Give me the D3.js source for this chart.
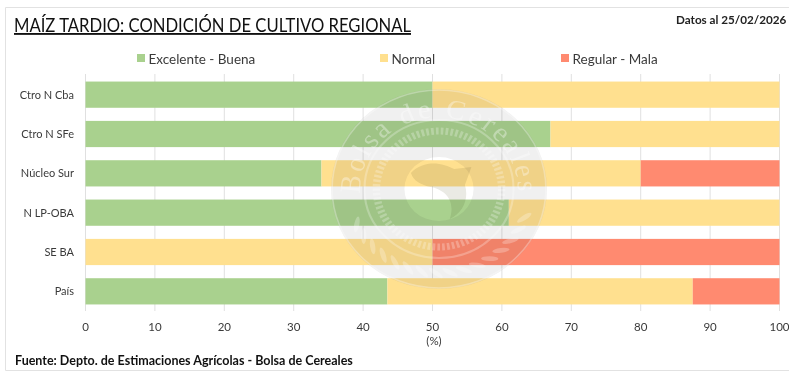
<!DOCTYPE html>
<html>
<head>
<meta charset="utf-8">
<script src="https://cdn.jsdelivr.net/npm/d3@7"></script>
<style>
	html, body { margin: 0; padding: 0; background: #fff; }
	svg { display: block; font-family: Lato, "Noto Sans", sans-serif; }
	.wash { mix-blend-mode: multiply; }
</style>
</head>
<body>
<div id="chart"></div>
<script>
'use strict';

// Values
const categories = ['Ctro N Cba', 'Ctro N SFe', 'Núcleo Sur', 'N LP-OBA', 'SE BA', 'País'];
const excelenteBuena = [50, 67, 34, 61, 0, 43.5];
const normal = [50, 33, 46, 39, 50, 44];
const regularMala = [0, 0, 20, 0, 50, 12.5];
const xTicks = [0, 10, 20, 30, 40, 50, 60, 70, 80, 90, 100];
const seriesNames = ['Excelente - Buena', 'Normal', 'Regular - Mala'];
const seriesColors = ['#a9d18e', '#ffe08f', '#ff8a70'];

const width = 789;
const height = 383;

const svg = d3.select('#chart')
	.append('svg')
	.attr('width', width)
	.attr('height', height);

// Frame around the chart
svg.append('path')
	.attr('d', 'M789,7.5H5.5V370.5H789')
	.attr('fill', 'none')
	.attr('stroke', '#e2e2e2');

const x = d3.scaleLinear().domain([0, 100]).range([85.5, 779.5]);
const y = d3.scaleBand().domain(categories).range([75, 311]).paddingInner(1 / 3).paddingOuter(1 / 6);

// Gridlines
svg.append('g')
	.selectAll('line')
	.data(xTicks)
	.enter()
	.append('line')
		.attr('x1', d => x(d))
		.attr('x2', d => x(d))
		.attr('y1', 74)
		.attr('y2', 311)
		.attr('stroke', '#e0e0e0');

// Stacked bars
const rows = categories.map((c, i) => ({
	cat: c,
	a: excelenteBuena[i],
	b: normal[i],
	c: regularMala[i]
}));
const stacked = d3.stack().keys(['a', 'b', 'c'])(rows);

svg.append('g')
	.selectAll('g')
	.data(stacked)
	.enter()
	.append('g')
		.attr('fill', (d, i) => seriesColors[i])
	.selectAll('rect')
	.data(d => d)
	.enter()
	.append('rect')
		.attr('x', d => x(d[0]))
		.attr('y', d => y(d.data.cat))
		.attr('width', d => x(d[1]) - x(d[0]))
		.attr('height', y.bandwidth());

// Axis labels
svg.selectAll('.xlabel')
	.data(xTicks)
	.enter()
	.append('text')
		.attr('class', 'xlabel')
		.attr('x', d => x(d))
		.attr('y', 331)
		.attr('text-anchor', 'middle')
		.attr('font-size', 11.5)
		.attr('fill', '#3a3a3a')
		.text(d => d);

svg.selectAll('.ylabel')
	.data(categories)
	.enter()
	.append('text')
		.attr('class', 'ylabel')
		.attr('x', 74)
		.attr('y', d => y(d) + y.bandwidth() / 2 + 4)
		.attr('text-anchor', 'end')
		.attr('font-size', 11)
		.attr('fill', '#3a3a3a')
		.text(d => d);

svg.append('text')
	.attr('x', 434)
	.attr('y', 345)
	.attr('text-anchor', 'middle')
	.attr('font-size', 11.5)
	.attr('fill', '#3a3a3a')
	.text('(%)');

// Legend
const legendX = [137, 380, 561];
const legend = svg.selectAll('.legend')
	.data(seriesNames)
	.enter()
	.append('g')
		.attr('class', 'legend')
		.attr('transform', (d, i) => 'translate(' + legendX[i] + ',54)');
legend.append('rect')
	.attr('width', 8)
	.attr('height', 8)
	.attr('fill', (d, i) => seriesColors[i]);
legend.append('text')
	.attr('x', 11.5)
	.attr('y', 9.5)
	.attr('font-size', 13.5)
	.attr('fill', '#3a3a3a')
	.text(d => d);

// Titles
svg.append('text')
	.attr('x', 14)
	.attr('y', 32)
	.attr('font-size', 18.5)
	.attr('fill', '#111')
	.attr('text-decoration', 'underline')
	.attr('textLength', 397)
	.attr('lengthAdjust', 'spacingAndGlyphs')
	.text('MAÍZ TARDIO: CONDICIÓN DE CULTIVO REGIONAL');

svg.append('text')
	.attr('x', 676)
	.attr('y', 24)
	.attr('font-size', 11.7)
	.attr('font-weight', 700)
	.attr('fill', '#222')
	.text('Datos al 25/02/2026');

svg.append('text')
	.attr('x', 15)
	.attr('y', 365)
	.attr('font-size', 12.5)
	.attr('font-weight', 700)
	.attr('fill', '#111')
	.text('Fuente: Depto. de Estimaciones Agrícolas - Bolsa de Cereales');

// Watermark seal, drawn over the bars. The grey is multiplied so the bars keep their colour
const seal = svg.append('g')
	.attr('transform', 'translate(439,189) scale(1.08,1)')
	.attr('fill', 'none');

const washArc = d3.arc().innerRadius(32).outerRadius(100).startAngle(0).endAngle(2 * Math.PI);
seal.append('path')
	.attr('class', 'wash')
	.attr('d', washArc())
	.attr('fill', '#f0f0f0');

seal.append('circle').attr('r', 99).attr('stroke', '#fff').attr('stroke-opacity', 0.3).attr('stroke-width', 1.5);
seal.append('circle').attr('r', 69).attr('stroke', '#fff').attr('stroke-opacity', 0.25).attr('stroke-width', 2);

// ring of small lettering, too blurred to read, so drawn as dashes
seal.append('circle')
	.attr('r', 58)
	.attr('stroke', '#fff')
	.attr('stroke-opacity', 0.25)
	.attr('stroke-width', 7)
	.attr('stroke-dasharray', '2.5 2');

// figure in the middle
seal.append('path')
	.attr('class', 'wash')
	.attr('d', 'M-26,-16C-14,-30 4,-26 14,-20L30,-22L24,-4C28,10 22,24 10,30C16,10 4,0 -8,-2C-16,-4 -24,-8 -26,-16Z')
	.attr('fill', '#eaeae4');

// wheat ears along the lower half of the seal
const wheatAngles = d3.range(20, 160, 9);
seal.selectAll('.wheat')
	.data(wheatAngles)
	.enter()
	.append('ellipse')
		.attr('class', 'wheat')
		.attr('rx', 8)
		.attr('ry', 2.4)
		.attr('fill', '#fff')
		.attr('fill-opacity', 0.25)
		.attr('transform', d => 'rotate(' + (d - 90) + ') translate(0,84) rotate(35)');

seal.append('path')
	.attr('id', 'sealArc')
	.attr('d', 'M-70,22A73,73 0 1 1 70,22');
seal.append('text')
	.attr('font-family', '"Liberation Serif", serif')
	.attr('font-size', 27)
	.attr('fill', '#fff')
	.attr('fill-opacity', 0.35)
	.attr('letter-spacing', 2.5)
	.append('textPath')
		.attr('href', '#sealArc')
		.attr('startOffset', '50%')
		.attr('text-anchor', 'middle')
		.text('Bolsa de Cereales');
</script>
</body>
</html>
